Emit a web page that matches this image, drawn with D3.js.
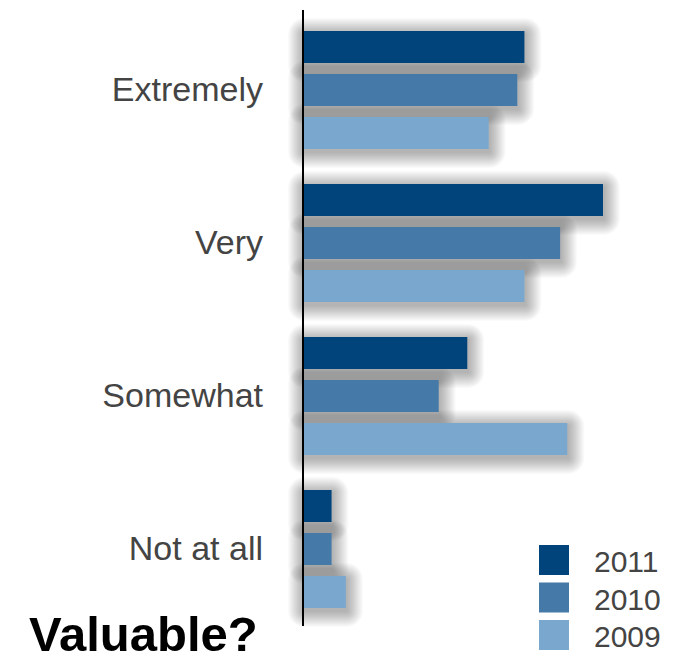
<!DOCTYPE html>
<html>
<head>
<meta charset="utf-8">
<script src="https://cdn.jsdelivr.net/npm/d3@7"></script>
<style>
  body { margin: 0; background: #fff; }
  svg { display: block; font-family: "Liberation Sans", Arial, Helvetica, sans-serif; }
</style>
</head>
<body>
<div class="graph"></div>
<script>
// answers to "Valuable?" -- share of respondents (%) per year
var categories = ['Extremely', 'Very', 'Somewhat', 'Not at all'];
var years = ['2011', '2010', '2009'];
var values2011 = [31, 42, 23, 4];
var values2010 = [30, 36, 19, 4];
var values2009 = [26, 31, 37, 6];

var seriesValues = { '2011': values2011, '2010': values2010, '2009': values2009 };
var data = categories.map(function(cat, i) {
  return { category: cat, bars: years.map(function(yr) { return { year: yr, value: seriesValues[yr][i] }; }) };
});

var width = 690, height = 665;

var x = d3.scaleLinear().domain([0, 42]).range([303, 603]);

var y0 = d3.scaleBand().domain(categories).range([31, 608]).paddingInner(35 / 153);
var y1 = d3.scaleBand().domain(years).range([0, y0.bandwidth()]).paddingInner(11 / 43);

var color = d3.scaleOrdinal().domain(years).range(['#01447b', '#4479a8', '#7aa7cd']);

var svg = d3.select('.graph').append('svg')
    .attr('width', width)
    .attr('height', height);

var group = svg.selectAll('.category')
    .data(data)
  .enter().append('g')
    .attr('class', 'category')
    .attr('transform', function(d) { return 'translate(0,' + y0(d.category) + ')'; });

// fake soft shadow: stacked translucent halos (svg filters don't render here)
var halo = d3.range(1, 17);
var shadowLayer = group.append('g').attr('class', 'shadow');
halo.forEach(function(r) {
  shadowLayer.selectAll(null)
      .data(function(d) { return d.bars; })
    .enter().append('rect')
      .attr('x', x(0) + 1 - r)
      .attr('y', function(d) { return y1(d.year) + 3 - r; })
      .attr('width', function(d) { return x(d.value) - x(0) + 2 * r; })
      .attr('height', y1.bandwidth() + 2 * r)
      .attr('rx', r)
      .style('fill', '#000')
      .style('fill-opacity', 0.018);
});

group.selectAll('rect.bar')
    .data(function(d) { return d.bars; })
  .enter().append('rect')
    .attr('class', 'bar')
    .attr('x', x(0))
    .attr('y', function(d) { return y1(d.year); })
    .attr('width', function(d) { return x(d.value) - x(0); })
    .attr('height', y1.bandwidth())
    .style('fill', function(d) { return color(d.year); });

// category labels, right aligned against the axis
group.append('text')
    .attr('x', 263)
    .attr('y', y1('2010') + y1.bandwidth() / 2)
    .attr('dy', '0.33em')
    .style('text-anchor', 'end')
    .style('font-size', '34px')
    .style('fill', '#444')
    .text(function(d) { return d.category; });

// vertical axis line
svg.append('line')
    .attr('x1', 303).attr('x2', 303)
    .attr('y1', 10).attr('y2', 626)
    .style('stroke', '#000')
    .style('stroke-width', 2);

// legend
var legend = svg.selectAll('.legend')
    .data(years)
  .enter().append('g')
    .attr('class', 'legend')
    .attr('transform', function(d, i) { return 'translate(539,' + (545 + i * 37.5) + ')'; });

legend.append('rect')
    .attr('width', 30)
    .attr('height', 30)
    .style('fill', color);

legend.append('text')
    .attr('x', 55)
    .attr('y', 27)
    .style('font-size', '30px')
    .style('fill', '#444')
    .text(function(d) { return d; });

svg.append('text')
    .attr('x', 29)
    .attr('y', 651)
    .style('font-size', '49px')
    .style('font-weight', 'bold')
    .style('fill', '#000')
    .text('Valuable?');
</script>
</body>
</html>
